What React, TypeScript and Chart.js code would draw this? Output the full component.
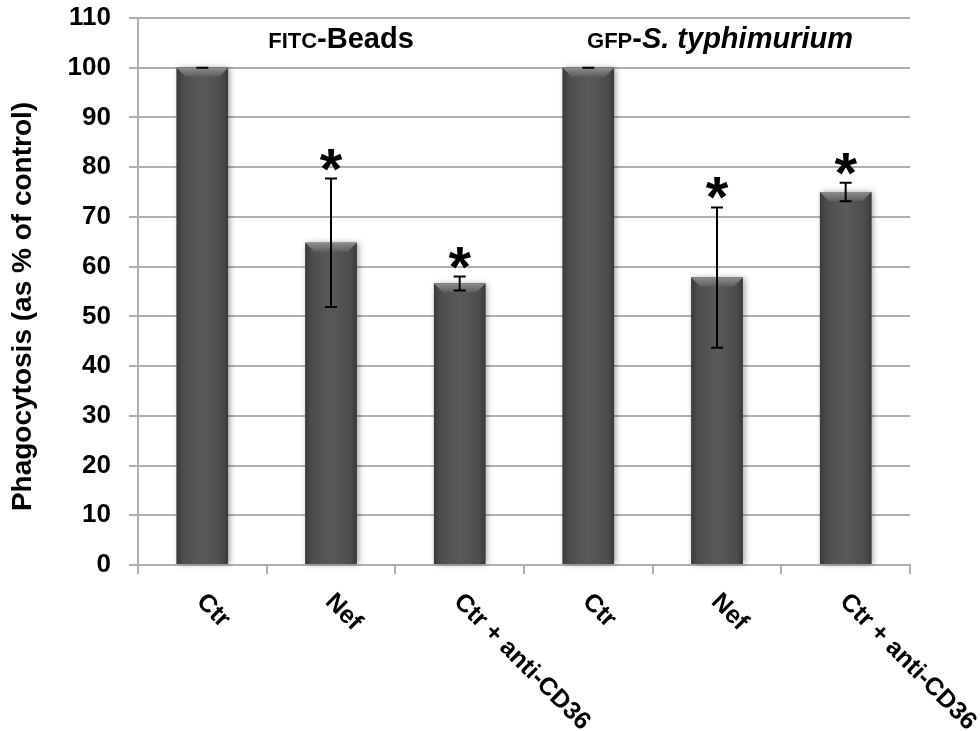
import React, { useEffect, useRef } from 'react';
import { Chart, registerables } from 'chart.js';

Chart.register(...registerables);

// ---- Data ----
const categories = ['Ctr', 'Nef', 'Ctr + anti-CD36', 'Ctr', 'Nef', 'Ctr + anti-CD36'];
const phagocytosis = [100, 64.8, 56.6, 100, 57.8, 75.0];
const errorValues = [0, 12.9, 1.4, 0, 14.1, 1.85];
const significant = [false, true, true, false, true, true];
const yMin = 0;
const yMax = 110;
const yStep = 10;
const yAxisTitle = 'Phagocytosis (as % of control)';
const groupSmallText = ['FITC', 'GFP'];
const groupDashText = ['-', '-'];
const groupBigText = ['Beads', 'S. typhimurium'];
const groupBigItalic = [false, true];
const groupCenterIndex = [1, 4];

const FONT = 'Arial, "Liberation Sans", sans-serif';
const GRID = '#b0b0b0';

const decorPlugin = {
  id: 'decor',
  afterDatasetsDraw(chart: any) {
    const ctx: CanvasRenderingContext2D = chart.ctx;
    const meta = chart.getDatasetMeta(0);
    const yScale = chart.scales.y;
    const xScale = chart.scales.x;
    const area = chart.chartArea;

    // bevelled bars
    meta.data.forEach((bar: any) => {
      const { x, y, base, width } = bar.getProps(['x', 'y', 'base', 'width'], true);
      const l = x - width / 2;
      const r = x + width / 2;
      const h = base - y;
      ctx.save();
      ctx.shadowColor = 'rgba(0,0,0,0.35)';
      ctx.shadowBlur = 6;
      ctx.shadowOffsetX = 2;
      const g = ctx.createLinearGradient(l, 0, r, 0);
      g.addColorStop(0, '#3a3a3a');
      g.addColorStop(0.12, '#4c4c4c');
      g.addColorStop(0.5, '#5a5a5a');
      g.addColorStop(0.88, '#4c4c4c');
      g.addColorStop(1, '#3a3a3a');
      ctx.fillStyle = g;
      ctx.fillRect(l, y, width, h);
      ctx.restore();
      const b = Math.min(9, h / 2);
      ctx.save();
      const tg = ctx.createLinearGradient(0, y, 0, y + b);
      tg.addColorStop(0, '#8c8c8c');
      tg.addColorStop(1, '#5e5e5e');
      ctx.fillStyle = tg;
      ctx.beginPath();
      ctx.moveTo(l, y);
      ctx.lineTo(r, y);
      ctx.lineTo(r - b, y + b);
      ctx.lineTo(l + b, y + b);
      ctx.closePath();
      ctx.fill();
      ctx.restore();
    });

    // error bars and asterisks
    ctx.save();
    ctx.strokeStyle = '#000';
    ctx.lineWidth = 2;
    phagocytosis.forEach((v, i) => {
      const cx = xScale.getPixelForValue(i);
      const top = yScale.getPixelForValue(v + errorValues[i]);
      const bot = yScale.getPixelForValue(v - errorValues[i]);
      ctx.beginPath();
      ctx.moveTo(cx, top);
      ctx.lineTo(cx, bot);
      ctx.moveTo(cx - 6, top);
      ctx.lineTo(cx + 6, top);
      ctx.moveTo(cx - 6, bot);
      ctx.lineTo(cx + 6, bot);
      ctx.stroke();
      if (significant[i]) {
        ctx.font = `bold 58px ${FONT}`;
        ctx.fillStyle = '#000';
        ctx.textAlign = 'center';
        ctx.textBaseline = 'alphabetic';
        const m = ctx.measureText('*');
        const asc = m.actualBoundingBoxAscent;
        const desc = m.actualBoundingBoxDescent;
        const center = top - 19;
        const baseline = center - (desc - asc) / 2;
        ctx.fillText('*', cx, baseline);
      }
    });
    ctx.restore();

    // x labels rotated +45deg
    ctx.save();
    ctx.font = `bold 25px ${FONT}`;
    ctx.fillStyle = '#000';
    ctx.textAlign = 'left';
    ctx.textBaseline = 'middle';
    (chart.data.labels as string[]).forEach((lab, i) => {
      const cx = xScale.getPixelForValue(i);
      ctx.save();
      ctx.translate(cx - 2, area.bottom + 33);
      ctx.rotate(Math.PI / 4);
      ctx.fillText(lab, 0, 0);
      ctx.restore();
    });
    ctx.restore();

    // y axis title
    ctx.save();
    ctx.font = `bold 28px ${FONT}`;
    ctx.fillStyle = '#000';
    ctx.textAlign = 'center';
    ctx.textBaseline = 'middle';
    ctx.translate(23, (area.top + area.bottom) / 2 + 15);
    ctx.rotate(-Math.PI / 2);
    ctx.fillText(yAxisTitle, 0, 0);
    ctx.restore();

    // group titles
    const offsets = [10, 3];
    groupSmallText.forEach((small, gi) => {
      const smallFont = `bold 22px ${FONT}`;
      const dashFont = `bold 29px ${FONT}`;
      const bigFont = `${groupBigItalic[gi] ? 'italic ' : ''}bold 29px ${FONT}`;
      ctx.save();
      ctx.font = smallFont;
      const w1 = ctx.measureText(small).width;
      ctx.font = dashFont;
      const w2 = ctx.measureText(groupDashText[gi]).width;
      ctx.font = bigFont;
      const w3 = ctx.measureText(groupBigText[gi]).width;
      const total = w1 + w2 + w3;
      const cx = xScale.getPixelForValue(groupCenterIndex[gi]) + offsets[gi];
      let x0 = cx - total / 2;
      const baseY = area.top + 30;
      ctx.fillStyle = '#000';
      ctx.textAlign = 'left';
      ctx.textBaseline = 'alphabetic';
      ctx.font = smallFont;
      ctx.fillText(small, x0, baseY);
      x0 += w1;
      ctx.font = dashFont;
      ctx.fillText(groupDashText[gi], x0, baseY);
      x0 += w2;
      ctx.font = bigFont;
      ctx.fillText(groupBigText[gi], x0, baseY);
      ctx.restore();
    });
  },
};

export default function App() {
  const canvasRef = useRef<HTMLCanvasElement | null>(null);

  useEffect(() => {
    document.body.style.margin = '0';
    const canvas = canvasRef.current;
    if (!canvas) return;
    const chart = new Chart(canvas, {
      type: 'bar',
      data: {
        labels: categories,
        datasets: [
          {
            data: phagocytosis,
            backgroundColor: '#555555',
            borderWidth: 0,
            barPercentage: 0.4,
            categoryPercentage: 1,
          },
        ],
      },
      options: {
        responsive: false,
        animation: false,
        events: [],
        layout: { padding: { top: 18, right: 70, bottom: 0, left: 0 } },
        plugins: {
          legend: { display: false },
          tooltip: { enabled: false },
          title: { display: false },
        },
        scales: {
          x: {
            offset: true,
            grid: {
              display: true,
              offset: true,
              drawOnChartArea: false,
              drawTicks: true,
              tickLength: 9,
              color: GRID,
              lineWidth: 2,
            },
            border: { display: true, color: GRID, width: 2 },
            ticks: { display: false },
            afterFit: (s: any) => {
              s.height = 166;
              s.paddingLeft = 0;
              s.paddingRight = 0;
            },
          },
          y: {
            min: yMin,
            max: yMax,
            grid: {
              color: GRID,
              lineWidth: 2,
              drawTicks: true,
              tickLength: 9,
            },
            border: { display: true, color: GRID, width: 2 },
            ticks: {
              stepSize: yStep,
              padding: 18,
              color: '#000',
              font: { family: FONT, size: 26, weight: 'bold' },
            },
            afterFit: (s: any) => {
              s.width = 138;
              s.paddingTop = 0;
              s.paddingBottom = 0;
            },
          },
        },
      },
      plugins: [decorPlugin],
    });
    return () => chart.destroy();
  }, []);

  return (
    <div style={{ width: 980, height: 731 }}>
      <canvas ref={canvasRef} width={980} height={731} style={{ display: 'block' }} />
    </div>
  );
}
